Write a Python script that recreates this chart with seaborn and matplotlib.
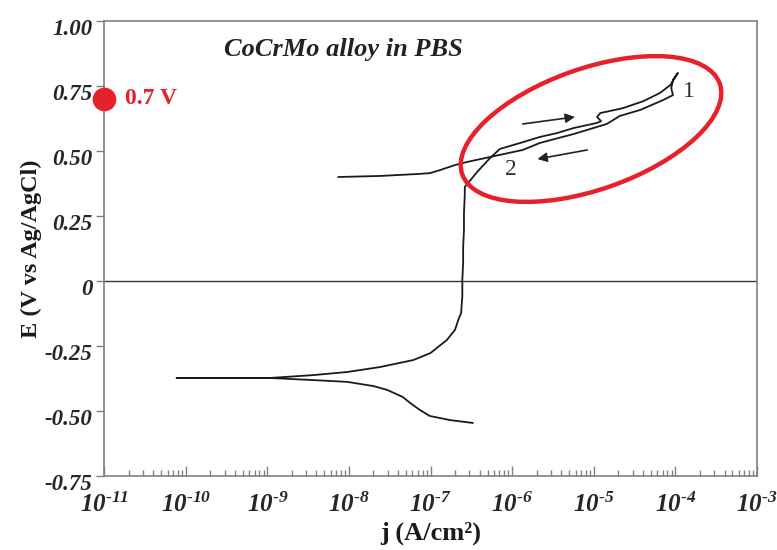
import numpy as np
import pandas as pd
import matplotlib
matplotlib.use("Agg")
import matplotlib.pyplot as plt
import seaborn as sns
from matplotlib.patches import Ellipse
from matplotlib.transforms import ScaledTranslation
from matplotlib.ticker import LogLocator, FixedLocator, NullFormatter

# ---------------- data (log10 j in A/cm2, E in V vs Ag/AgCl) ----------------
# cathodic branch, from scan start toward Ecorr
cath_logj = [-6.48, -6.76, -7.01, -7.13, -7.25, -7.34, -7.53, -7.70, -8.02,
             -8.44, -8.97, -9.58, -10.11]
cath_E = [-0.546, -0.535, -0.519, -0.496, -0.469, -0.446, -0.419, -0.404,
          -0.388, -0.381, -0.373, -0.373, -0.373]
# anodic forward branch, Ecorr -> vertex "1"
anod_logj = [-8.97, -8.44, -8.02, -7.62, -7.21, -7.00, -6.80, -6.70, -6.66,
             -6.625, -6.61, -6.61, -6.60, -6.60, -6.59, -6.59, -6.58, -6.58,
             -6.51, -6.43, -6.27, -6.15, -5.90, -5.66, -5.45, -5.25, -4.96,
             -4.91, -4.96, -4.92, -4.80, -4.64, -4.39, -4.19, -4.06, -3.97]
anod_E = [-0.373, -0.362, -0.350, -0.331, -0.304, -0.277, -0.227, -0.188,
          -0.150, -0.123, -0.058, 0.004, 0.073, 0.131, 0.196, 0.262, 0.331,
          0.362, 0.388, 0.419, 0.473, 0.508, 0.531, 0.554, 0.569, 0.588,
          0.608, 0.615, 0.631, 0.646, 0.654, 0.665, 0.692, 0.723, 0.754, 0.800]
# reverse branch, vertex -> end
rev_logj = [-4.03, -4.05, -4.03, -4.15, -4.43, -4.68, -4.84, -5.25, -5.66,
            -5.87, -6.27, -6.55, -6.70, -6.88, -7.005, -7.13, -7.62, -8.13]
rev_E = [0.773, 0.742, 0.715, 0.696, 0.658, 0.635, 0.604, 0.565, 0.531,
         0.504, 0.477, 0.458, 0.446, 0.427, 0.415, 0.412, 0.404, 0.400]

marker_E = 0.70
marker_label = "0.7 V"
title = "CoCrMo alloy in PBS"
y_ticks = [-0.75, -0.50, -0.25, 0.0, 0.25, 0.50, 0.75, 1.00]
y_tick_labels = ["-0.75", "-0.50", "-0.25", "0", "0.25", "0.50", "0.75", "1.00"]
x_exponents = list(range(-11, -2))
# annotation positions (log10 j, E)
lab1 = (-3.84, 0.727)
lab2 = (-6.02, 0.427)
arrow_fwd = ((-5.87, 0.604), (-5.23, 0.631))
arrow_rev = ((-5.08, 0.504), (-5.69, 0.469))

# ---------------- style ----------------
sns.set_style("white")
plt.rcParams["font.family"] = ["Liberation Serif", "DejaVu Serif"]
plt.rcParams["mathtext.fontset"] = "custom"
plt.rcParams["mathtext.rm"] = "Liberation Serif:italic:bold"
plt.rcParams["mathtext.it"] = "Liberation Serif:italic:bold"
plt.rcParams["mathtext.bf"] = "Liberation Serif:italic:bold"
plt.rcParams["axes.unicode_minus"] = False

RED = "#e8202a"
GRAY = "#808080"
INK = "#1a1a1a"

fig = plt.figure(figsize=(7.77, 5.50), dpi=100)
ax = fig.add_axes([104 / 777, 1 - 476 / 550, (757 - 104) / 777, (476 - 21) / 550])

logj = cath_logj + anod_logj + rev_logj
E = cath_E + anod_E + rev_E
df = pd.DataFrame({"j": np.power(10.0, logj), "E": E, "order": np.arange(len(E))})
sns.lineplot(data=df, x="j", y="E", sort=False, estimator=None, color=INK,
             lw=1.3, ax=ax, legend=False)

ax.set_xscale("log")
ax.set_xlim(1e-11, 1e-3)
ax.set_ylim(-0.75, 1.0)

ax.axhline(0, color="#333333", lw=1.0, zorder=1)

for s in ax.spines.values():
    s.set_color(GRAY)
    s.set_linewidth(1.2)
    s.set_visible(True)

# ticks
HYPH = "\u2010"
ax.xaxis.set_major_locator(FixedLocator([10.0 ** e for e in x_exponents]))
ax.set_xticklabels(["$\\mathrm{10^{" + HYPH + str(abs(e)) + "}}$" for e in x_exponents])
ax.xaxis.set_minor_locator(LogLocator(base=10, subs=np.arange(2, 10), numticks=50))
ax.xaxis.set_minor_formatter(NullFormatter())
ax.tick_params(axis="x", which="major", direction="in", length=7, width=1,
               color=GRAY, pad=12, labelsize=18, bottom=True, top=False)
ax.tick_params(axis="x", which="minor", direction="in", length=4.5, width=1,
               color=GRAY, bottom=True, top=False)
ax.set_yticks(y_ticks)
ax.set_yticklabels(y_tick_labels)
ax.tick_params(axis="y", which="major", direction="out", length=6, width=1,
               color=GRAY, pad=2, labelsize=16.5, left=True, right=False)
for lab in ax.get_yticklabels():
    lab.set_fontweight("bold")
    lab.set_fontstyle("italic")
    lab.set_transform(lab.get_transform() + ScaledTranslation(0, -0.06, fig.dpi_scale_trans))

ax.set_xlabel("j (A/cm²)", fontsize=19, fontweight="bold", labelpad=3, color=INK)
ax.set_ylabel("E (V vs Ag/AgCl)", fontsize=17.5, fontweight="bold", labelpad=2, color=INK)

# title inside
ax.text(0.366, 0.938, title, transform=ax.transAxes, ha="center", va="center",
        fontsize=19, fontweight="bold", fontstyle="italic", color="#222222")

# red marker on axis
ax.plot([1e-11], [marker_E], "o", color=RED, ms=16, clip_on=False, zorder=6)
ax.text(0.032, marker_E, marker_label, transform=ax.get_yaxis_transform(),
        ha="left", va="center", fontsize=17, fontweight="bold", color=RED)

# labels 1 / 2
ax.text(10 ** lab1[0], lab1[1], "1", fontsize=17, color="#333333", ha="center", va="center")
ax.text(10 ** lab2[0], lab2[1], "2", fontsize=17, color="#333333", ha="center", va="center")

# arrows
for (t, h) in (arrow_fwd, arrow_rev):
    ax.annotate("", xy=(10 ** h[0], h[1]), xytext=(10 ** t[0], t[1]),
                arrowprops=dict(arrowstyle="-|>", color="#222222", lw=1.2,
                                mutation_scale=14, shrinkA=0, shrinkB=0))

# red ellipse (figure-inch coordinates)
ell = Ellipse((5.91, 4.21), 2.73, 1.21, angle=19.4, fill=False, ec=RED, lw=3.2,
              transform=fig.dpi_scale_trans, clip_on=False, zorder=7)
fig.add_artist(ell)

fig.savefig("out.png", dpi=100)
